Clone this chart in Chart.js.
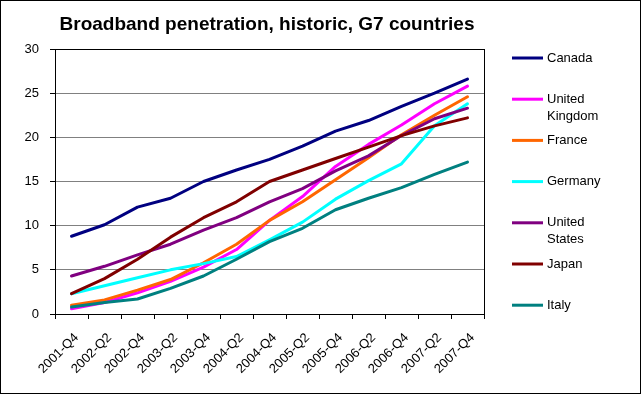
<!DOCTYPE html>
<html>
<head>
<meta charset="utf-8">
<script src="https://cdn.jsdelivr.net/npm/chart.js@4/dist/chart.umd.min.js"></script>
<style>
  html, body { margin: 0; padding: 0; background: #fff; }
  #wrap { width: 641px; height: 394px; position: relative; }
</style>
</head>
<body>
<div id="wrap"><canvas id="g7Chart"></canvas></div>
<script>
// ---------------------------------------------------------------------------
// Data (% penetration)
// ---------------------------------------------------------------------------

const periods = ['2001-Q4', '2002-Q2', '2002-Q4', '2003-Q2', '2003-Q4', '2004-Q2',
                 '2004-Q4', '2005-Q2', '2005-Q4', '2006-Q2', '2006-Q4', '2007-Q2', '2007-Q4'];

const yTicks = [0, 5, 10, 15, 20, 25, 30];

const canada  = [8.8, 10.1, 12.1, 13.1, 15.0, 16.3, 17.5, 19.0, 20.7, 21.9, 23.5, 25.0, 26.6];
const uk      = [0.6, 1.3, 2.4, 3.7, 5.3, 7.3, 10.6, 13.3, 16.7, 19.2, 21.4, 23.8, 25.8];
const france  = [1.0, 1.6, 2.7, 3.9, 5.8, 7.9, 10.6, 12.7, 15.2, 17.7, 20.3, 22.5, 24.6];
const germany = [2.3, 3.2, 4.1, 5.0, 5.7, 6.5, 8.4, 10.4, 13.0, 15.1, 17.0, 21.3, 23.8];
const usa     = [4.3, 5.4, 6.7, 7.9, 9.5, 10.9, 12.7, 14.2, 16.2, 17.9, 20.2, 22.1, 23.3];
const japan   = [2.3, 4.0, 6.2, 8.7, 10.9, 12.7, 15.0, 16.3, 17.6, 18.9, 20.2, 21.3, 22.2];
const italy   = [0.8, 1.3, 1.7, 2.9, 4.3, 6.2, 8.2, 9.7, 11.8, 13.1, 14.3, 15.8, 17.2];

const countries = [['Canada'], ['United', 'Kingdom'], ['France'], ['Germany'],
                   ['United', 'States'], ['Japan'], ['Italy']];
const series    = [canada, uk, france, germany, usa, japan, italy];
const colors    = ['#000080', '#ff00ff', '#ff6600', '#00ffff', '#800080', '#800000', '#008080'];

const chartTitle = 'Broadband penetration, historic, G7 countries';

// ---------------------------------------------------------------------------
// Helpers / plugins
// ---------------------------------------------------------------------------

const FONT = 'Arial, "Liberation Sans", sans-serif';

// white background + outer black frame, plot-area frame
const framePlugin = {
  id: 'frame',
  beforeDraw(chart) {
    const ctx = chart.ctx;
    ctx.save();
    ctx.fillStyle = '#fff';
    ctx.fillRect(0, 0, chart.width, chart.height);
    ctx.strokeStyle = '#000';
    ctx.lineWidth = 1;
    ctx.strokeRect(0.5, 0.5, chart.width - 1, chart.height - 1);
    ctx.restore();
  },
  beforeDatasetsDraw(chart) {
    const a = chart.chartArea;
    const ctx = chart.ctx;
    ctx.save();
    ctx.strokeStyle = '#000';
    ctx.lineWidth = 1;
    ctx.strokeRect(Math.round(a.left) + 0.5, Math.round(a.top) + 0.5,
                   Math.round(a.right - a.left), Math.round(a.bottom - a.top));
    ctx.restore();
  }
};

// title centred over the plot area, legend down the right side
const sidePlugin = {
  id: 'side',
  afterDraw(chart) {
    const ctx = chart.ctx;
    ctx.save();
    ctx.fillStyle = '#000';
    ctx.font = 'bold 19px ' + FONT;
    ctx.textAlign = 'center';
    ctx.textBaseline = 'alphabetic';
    ctx.fillText(chartTitle, 267, 30);

    ctx.font = '13px ' + FONT;
    ctx.textAlign = 'left';
    ctx.textBaseline = 'middle';
    chart.data.datasets.forEach(function (ds, i) {
      const y = 58 + i * 41.2;
      ctx.strokeStyle = ds.borderColor;
      ctx.lineWidth = 3;
      ctx.beginPath();
      ctx.moveTo(512, y);
      ctx.lineTo(543, y);
      ctx.stroke();
      countries[i].forEach(function (line, j) {
        ctx.fillText(line, 547, y + j * 17);
      });
    });
    ctx.restore();
  }
};

// ---------------------------------------------------------------------------
// Chart
// ---------------------------------------------------------------------------

new Chart(document.getElementById('g7Chart').getContext('2d'), {
  type: 'line',
  data: {
    labels: periods,
    datasets: series.map(function (values, i) {
      return {
        label: countries[i].join(' '),
        data: values,
        borderColor: colors[i],
        backgroundColor: colors[i],
        borderWidth: 3,
        pointRadius: 0,
        tension: 0,
        fill: false,
        borderJoinStyle: 'round',
        borderCapStyle: 'round',
        order: series.length - i
      };
    })
  },
  options: {
    responsive: true,
    maintainAspectRatio: false,
    animation: false,
    devicePixelRatio: 1,
    layout: { padding: { top: 49, right: 157, left: 0, bottom: 0 } },
    plugins: {
      legend: { display: false },
      title: { display: false },
      tooltip: { enabled: false }
    },
    scales: {
      x: {
        type: 'category',
        offset: true,
        afterFit: function (s) { s.height = 80; },
        border: { display: true, color: '#000', width: 1 },
        grid: {
          offset: true,
          drawOnChartArea: false,
          drawTicks: true,
          tickLength: 5,
          tickColor: '#000',
          color: '#000'
        },
        ticks: {
          autoSkip: false,
          maxRotation: 45,
          minRotation: 45,
          padding: 11,
          labelOffset: 5,
          color: '#000',
          font: { family: FONT, size: 13 }
        }
      },
      y: {
        min: yTicks[0],
        max: yTicks[yTicks.length - 1],
        afterFit: function (s) { s.width = 55; },
        afterBuildTicks: function (s) { s.ticks = yTicks.map(function (v) { return { value: v }; }); },
        border: { display: true, color: '#000', width: 1 },
        grid: {
          color: function (c) { return c.tick && c.tick.value === 30 ? '#000' : '#808080'; },
          tickColor: '#000',
          tickLength: 5,
          lineWidth: 1
        },
        ticks: {
          padding: 11,
          color: '#000',
          font: { family: FONT, size: 13 }
        }
      }
    }
  },
  plugins: [framePlugin, sidePlugin]
});
</script>
</body>
</html>
